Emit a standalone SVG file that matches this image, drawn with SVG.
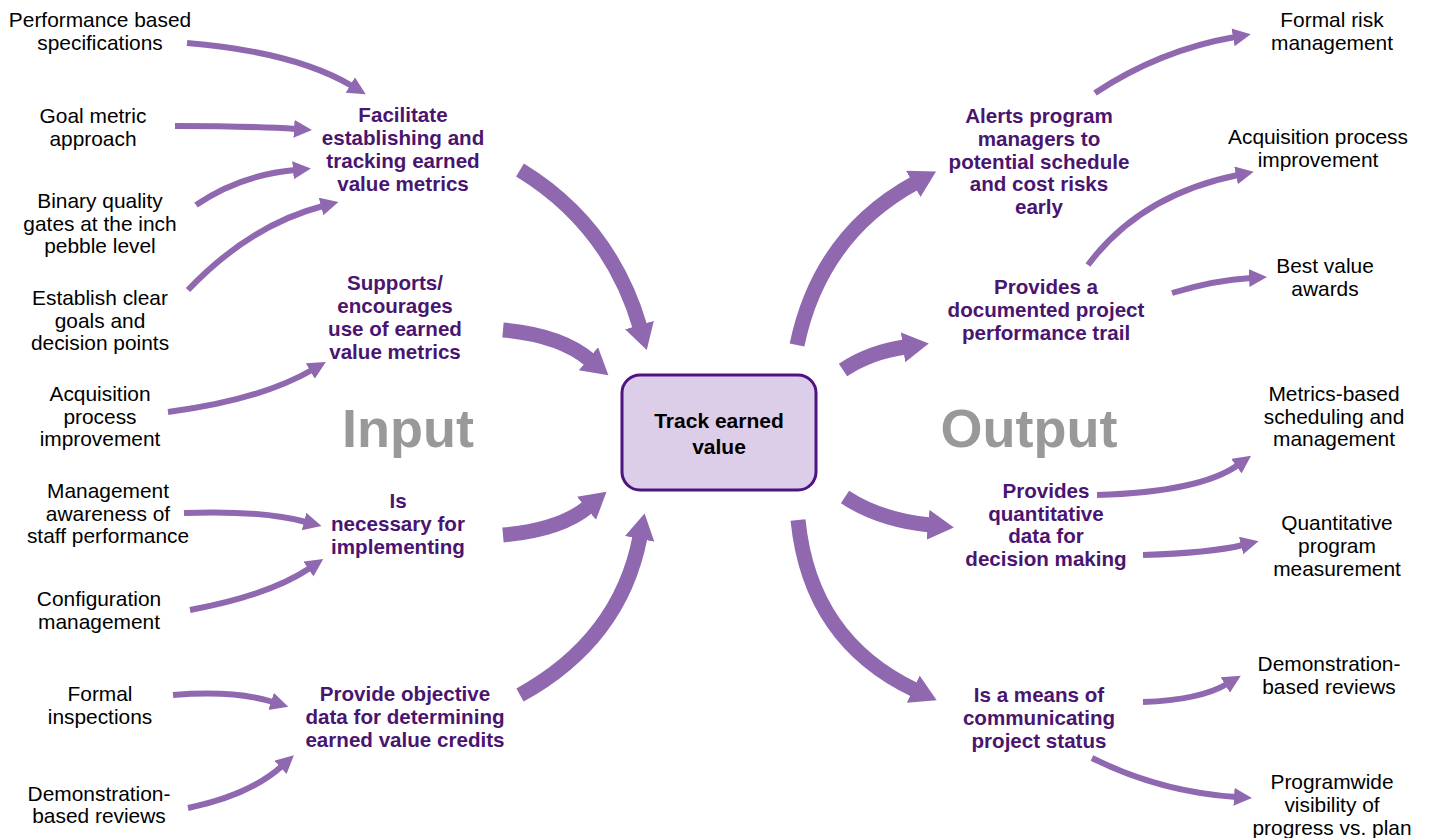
<svg xmlns="http://www.w3.org/2000/svg" width="1439" height="838" viewBox="0 0 1439 838">
<defs>
<style>
.lbl{font-family:"Liberation Sans",Arial,sans-serif;font-size:20.9px;fill:#000;text-anchor:middle}
.mid{font-family:"Liberation Sans",Arial,sans-serif;font-size:20.6px;font-weight:bold;fill:#4a1570;text-anchor:middle}
.big{font-family:"Liberation Sans",Arial,sans-serif;font-size:54px;font-weight:bold;fill:#999999;text-anchor:middle}
.ctr{font-family:"Liberation Sans",Arial,sans-serif;font-size:21px;font-weight:bold;fill:#000;text-anchor:middle}
.thin{fill:none;stroke:#9068b0;stroke-width:6;marker-end:url(#hs)}
.thick{fill:none;stroke:#9068b0;stroke-width:15;marker-end:url(#hl)}
</style>
<marker id="hs" markerUnits="userSpaceOnUse" markerWidth="22" markerHeight="20" refX="2" refY="9" orient="auto" viewBox="0 0 22 20">
<path d="M0,0 L18,9 L0,18 Z" fill="#9068b0"/>
</marker>
<marker id="hl" markerUnits="userSpaceOnUse" markerWidth="30" markerHeight="32" refX="2" refY="15" orient="auto" viewBox="0 0 30 32">
<path d="M0,0 L26,15 L0,30 Z" fill="#9068b0"/>
</marker>
</defs>
<rect width="1439" height="838" fill="#ffffff"/>
<g id="connectors">
<path class="thin" d="M187,43 Q295,52 352,86"/>
<path class="thin" d="M175,126 Q250,126 296,129"/>
<path class="thin" d="M196,205 Q240,175 295,170"/>
<path class="thin" d="M188,290 Q250,225 323,206"/>
<path class="thin" d="M168,412 Q260,400 312,370"/>
<path class="thin" d="M184,513 Q260,510 306,522"/>
<path class="thin" d="M190,610 Q270,595 310,568"/>
<path class="thin" d="M173,695 Q235,690 273,702"/>
<path class="thin" d="M188,808 Q250,795 282,766"/>
<path class="thick" d="M520,170 Q610,225 640,327"/>
<path class="thick" d="M503,330 Q560,335 590,360"/>
<path class="thick" d="M503,535 Q560,530 588,507"/>
<path class="thick" d="M520,695 Q620,640 640,537"/>
<path class="thick" d="M797,345 Q820,235 915,183"/>
<path class="thick" d="M843,370 Q870,352 905,347"/>
<path class="thick" d="M845,497 Q880,520 930,525"/>
<path class="thick" d="M798,520 Q810,640 915,690"/>
<path class="thin" d="M1095,93 Q1160,50 1235,37"/>
<path class="thin" d="M1088,265 Q1140,195 1238,175"/>
<path class="thin" d="M1172,293 Q1215,280 1251,278"/>
<path class="thin" d="M1097,495 Q1200,492 1238,465"/>
<path class="thin" d="M1143,555 Q1210,553 1243,545"/>
<path class="thin" d="M1143,702 Q1200,700 1227,684"/>
<path class="thin" d="M1092,758 Q1160,792 1236,797"/>
</g>
<g id="center">
<rect x="622" y="375" width="194" height="115" rx="18" fill="#dccde8" stroke="#4f1480" stroke-width="3"/>
<text class="ctr" x="719" y="428">Track earned</text>
<text class="ctr" x="719" y="454">value</text>
</g>
<g id="input-title"><text class="big" x="408" y="447">Input</text></g>
<g id="output-title"><text class="big" x="1029" y="447">Output</text></g>
<g id="in1"><text class="lbl" x="100" y="27">Performance based</text><text class="lbl" x="100" y="50">specifications</text></g>
<g id="in2"><text class="lbl" x="93" y="123">Goal metric</text><text class="lbl" x="93" y="146">approach</text></g>
<g id="in3"><text class="lbl" x="100" y="208">Binary quality</text><text class="lbl" x="100" y="231">gates at the inch</text><text class="lbl" x="100" y="253">pebble level</text></g>
<g id="in4"><text class="lbl" x="100" y="305">Establish clear</text><text class="lbl" x="100" y="328">goals and</text><text class="lbl" x="100" y="350">decision points</text></g>
<g id="in5"><text class="lbl" x="100" y="401">Acquisition</text><text class="lbl" x="100" y="424">process</text><text class="lbl" x="100" y="446">improvement</text></g>
<g id="in6"><text class="lbl" x="108" y="498">Management</text><text class="lbl" x="108" y="521">awareness of</text><text class="lbl" x="108" y="543">staff performance</text></g>
<g id="in7"><text class="lbl" x="99" y="606">Configuration</text><text class="lbl" x="99" y="629">management</text></g>
<g id="in8"><text class="lbl" x="100" y="701">Formal</text><text class="lbl" x="100" y="724">inspections</text></g>
<g id="in9"><text class="lbl" x="99" y="801">Demonstration-</text><text class="lbl" x="99" y="823">based reviews</text></g>
<g id="m1"><text class="mid" x="403" y="122">Facilitate</text><text class="mid" x="403" y="145">establishing and</text><text class="mid" x="403" y="168">tracking earned</text><text class="mid" x="403" y="191">value metrics</text></g>
<g id="m2"><text class="mid" x="395" y="290">Supports/</text><text class="mid" x="395" y="313">encourages</text><text class="mid" x="395" y="336">use of earned</text><text class="mid" x="395" y="359">value metrics</text></g>
<g id="m3"><text class="mid" x="398" y="508">Is</text><text class="mid" x="398" y="531">necessary for</text><text class="mid" x="398" y="554">implementing</text></g>
<g id="m4"><text class="mid" x="405" y="701">Provide objective</text><text class="mid" x="405" y="724">data for determining</text><text class="mid" x="405" y="747">earned value credits</text></g>
<g id="m5"><text class="mid" x="1039" y="123">Alerts program</text><text class="mid" x="1039" y="146">managers to</text><text class="mid" x="1039" y="169">potential schedule</text><text class="mid" x="1039" y="191">and cost risks</text><text class="mid" x="1039" y="214">early</text></g>
<g id="m6"><text class="mid" x="1046" y="294">Provides a</text><text class="mid" x="1046" y="317">documented project</text><text class="mid" x="1046" y="340">performance trail</text></g>
<g id="m7"><text class="mid" x="1046" y="498">Provides</text><text class="mid" x="1046" y="521">quantitative</text><text class="mid" x="1046" y="543">data for</text><text class="mid" x="1046" y="566">decision making</text></g>
<g id="m8"><text class="mid" x="1039" y="702">Is a means of</text><text class="mid" x="1039" y="725">communicating</text><text class="mid" x="1039" y="748">project status</text></g>
<g id="out1"><text class="lbl" x="1332" y="27">Formal risk</text><text class="lbl" x="1332" y="50">management</text></g>
<g id="out2"><text class="lbl" x="1318" y="144">Acquisition process</text><text class="lbl" x="1318" y="167">improvement</text></g>
<g id="out3"><text class="lbl" x="1325" y="273">Best value</text><text class="lbl" x="1325" y="296">awards</text></g>
<g id="out4"><text class="lbl" x="1334" y="401">Metrics-based</text><text class="lbl" x="1334" y="424">scheduling and</text><text class="lbl" x="1334" y="446">management</text></g>
<g id="out5"><text class="lbl" x="1337" y="530">Quantitative</text><text class="lbl" x="1337" y="553">program</text><text class="lbl" x="1337" y="576">measurement</text></g>
<g id="out6"><text class="lbl" x="1329" y="671">Demonstration-</text><text class="lbl" x="1329" y="694">based reviews</text></g>
<g id="out7"><text class="lbl" x="1332" y="789">Programwide</text><text class="lbl" x="1332" y="812">visibility of</text><text class="lbl" x="1332" y="835">progress vs. plan</text></g>
</svg>
